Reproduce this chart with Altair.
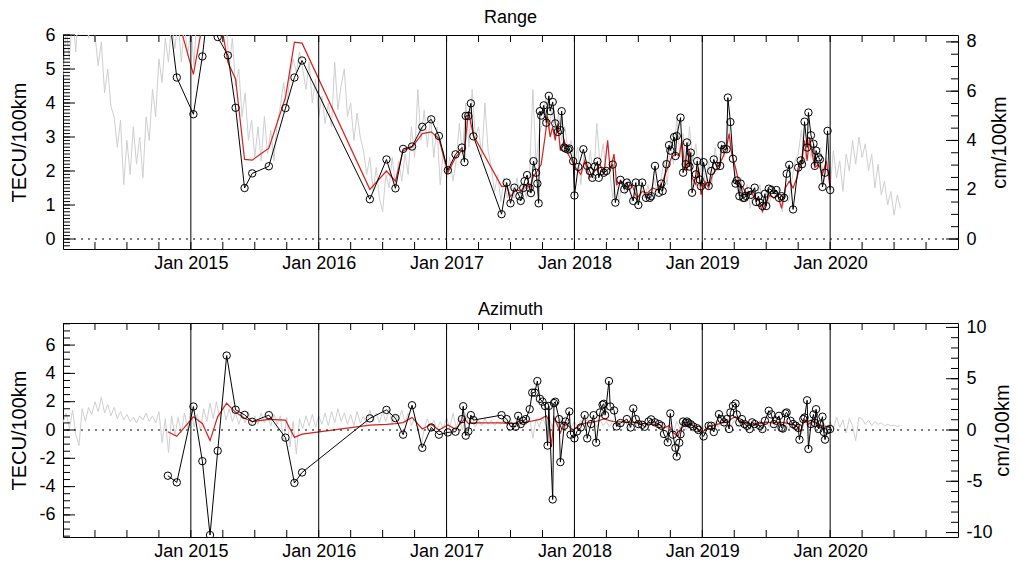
import altair as alt
import pandas as pd

FONT = "Liberation Sans"
X0, X1 = 2014.0, 2021.0
STEP = 0.025            # spacing of the daily-ish gray series (years)
RATIO = 1.38            # cm per TECU (C-band)
W, H = 895, 214
GRAY, RED = "#cfcfcf", "#d8201c"

YEAR_LINES = [2015, 2016, 2017, 2018, 2019, 2020]
YEAR_LABELS = [2015, 2016, 2017, 2018, 2019, 2020]
QUARTERS = [2014.25, 2014.5, 2014.75, 2015.0, 2015.25, 2015.5, 2015.75, 2016.0, 2016.25,
            2016.5, 2016.75, 2017.0, 2017.25, 2017.5, 2017.75, 2018.0, 2018.25, 2018.5,
            2018.75, 2019.0, 2019.25, 2019.5, 2019.75, 2020.0, 2020.25, 2020.5, 2020.75]

# ---------------- Range panel ----------------
RANGE_GRAY = [
    4.8, 6.2, 5.3, 6.6, 5.5, 7.0, 6.1, 6.8, 5.9, 7.2,
    6.0, 5.1, 5.8, 4.3, 5.0, 3.9, 3.6, 2.7, 3.5, 1.6,
    2.9, 1.9, 3.3, 2.2, 3.0, 1.8, 3.6, 2.9, 4.4, 3.6,
    5.3, 4.6, 5.9, 5.2, 6.4, 5.6, 6.5, 5.2, 6.3, 5.4,
    6.2, 5.1, 6.8, 7.2, 6.9, 7.5, 7.0, 7.4, 6.8, 7.1,
    5.8, 6.4, 5.1, 5.9, 4.5, 5.0, 3.6, 4.3, 2.9, 3.5,
    2.4, 3.3, 2.3, 3.6, 2.5, 3.2, 2.3, 3.4, 3.9, 4.6,
    3.9, 4.8, 5.3, 4.9, 5.5, 5.0, 4.4, 5.2, 4.0, 4.7,
    3.6, 4.2, 3.4, 4.0, 3.3, 5.2, 3.8, 4.5, 5.0, 3.6,
    4.0, 2.9, 3.7, 3.0, 2.6, 1.9, 2.4, 1.4, 2.1, 1.2,
    0.8, 1.9, 1.5, 2.4, 1.6, 2.3, 1.7, 2.5, 1.9, 3.3,
    2.4, 4.4, 2.9, 3.8, 2.7, 3.6, 2.4, 3.3, 1.6, 2.6,
    1.8, 2.4, 1.7, 2.3, 3.4, 2.5, 4.0, 2.7, 4.4, 3.0,
    3.3, 2.4, 4.0, 2.6, 2.1, 1.4, 1.9, 1.1, 1.8, 1.2,
    1.7, 1.2, 1.8, 1.3, 1.6, 1.2, 2.0, 4.4, 2.2, 3.1,
    3.4, 4.1, 3.2, 3.8, 3.0, 3.7, 2.9, 3.3, 2.6, 2.9,
    2.2, 2.7, 1.6, 2.5, 1.9, 2.6, 1.7, 3.4, 2.2, 2.8,
    1.9, 2.0, 1.2, 1.8, 1.1, 1.7, 1.3, 1.8, 1.1, 1.6,
    1.0, 1.7, 1.2, 1.6, 1.1, 1.8, 1.3, 1.7, 2.3, 1.6,
    2.9, 2.2, 3.6, 2.4, 3.1, 2.0, 3.3, 2.3, 2.8, 1.8,
    2.4, 1.5, 2.3, 1.6, 2.7, 2.0, 2.8, 2.4, 3.5, 2.8,
    2.2, 1.4, 1.8, 1.2, 1.6, 0.9, 1.5, 1.1, 1.6, 0.8,
    1.4, 1.0, 1.6, 1.2, 1.5, 0.8, 1.4, 1.1, 1.7, 2.3,
    2.5, 3.2, 2.2, 3.0, 2.4, 2.8, 2.1, 2.7, 1.6, 2.4,
    1.5, 2.6, 1.8, 2.3, 1.4, 2.5, 2.0, 2.9, 2.2, 3.0,
    2.4, 2.8, 2.0, 2.5, 1.5, 2.2, 1.3, 1.7, 1.0, 1.4,
    0.7, 1.3, 0.9,
]

RANGE_RED = [
    (2014.89, 6.6), (2015.02, 4.84), (2015.09, 6.3), (2015.16, 7.5), (2015.21, 6.9),
    (2015.29, 5.2), (2015.35, 4.70), (2015.42, 2.34), (2015.48, 2.32), (2015.61, 2.67),
    (2015.74, 4.16), (2015.81, 5.79), (2015.87, 5.76), (2016.40, 1.46), (2016.53, 2.0),
    (2016.60, 1.7), (2016.66, 2.6), (2016.73, 2.7), (2016.81, 3.1), (2016.88, 3.15),
    (2016.94, 2.95), (2017.01, 1.95), (2017.07, 2.4), (2017.12, 2.6), (2017.14, 2.55),
    (2017.17, 3.75), (2017.21, 3.05), (2017.43, 1.55), (2017.47, 1.55), (2017.50, 1.25),
    (2017.54, 1.45), (2017.58, 1.4), (2017.62, 1.6), (2017.65, 1.5), (2017.68, 1.85),
    (2017.71, 2.0), (2017.74, 2.2), (2017.77, 3.0), (2017.79, 3.6), (2017.81, 3.0),
    (2017.83, 3.3), (2017.85, 2.9), (2017.87, 3.4), (2017.89, 2.6), (2017.92, 2.9),
    (2017.95, 2.5), (2017.98, 2.3), (2018.01, 2.1), (2018.05, 1.9), (2018.08, 2.3),
    (2018.12, 1.8), (2018.16, 2.0), (2018.20, 2.2), (2018.23, 1.9), (2018.26, 2.9),
    (2018.28, 2.0), (2018.31, 2.5), (2018.33, 1.6), (2018.37, 1.7), (2018.41, 1.5),
    (2018.45, 1.6), (2018.49, 1.2), (2018.53, 1.4), (2018.57, 1.35), (2018.61, 1.5),
    (2018.65, 1.45), (2018.69, 1.7), (2018.73, 2.1), (2018.76, 2.4), (2018.79, 2.5),
    (2018.82, 2.45), (2018.84, 2.9), (2018.86, 2.2), (2018.88, 2.0), (2018.90, 2.6),
    (2018.92, 1.8), (2018.95, 1.6), (2018.97, 2.1), (2018.99, 1.3), (2019.02, 1.7),
    (2019.05, 1.5), (2019.08, 1.9), (2019.12, 2.1), (2019.16, 2.4), (2019.19, 2.7),
    (2019.21, 3.1), (2019.23, 2.5), (2019.26, 2.1), (2019.29, 1.6), (2019.32, 1.5),
    (2019.35, 1.3), (2019.38, 1.4), (2019.41, 1.2), (2019.44, 1.15), (2019.47, 0.8),
    (2019.50, 1.1), (2019.53, 1.3), (2019.56, 1.2), (2019.59, 1.3), (2019.62, 0.9),
    (2019.65, 1.5), (2019.68, 1.7), (2019.71, 1.5), (2019.74, 1.8), (2019.77, 2.2),
    (2019.80, 2.9), (2019.82, 2.3), (2019.84, 3.0), (2019.86, 2.5), (2019.88, 2.1),
    (2019.91, 2.2), (2019.94, 1.9), (2019.97, 2.3), (2020.00, 1.5),
]

RANGE_BLACK = [
    (2014.80, 7.5), (2014.89, 4.75), (2015.02, 3.67), (2015.09, 5.37), (2015.16, 7.6),
    (2015.21, 5.94), (2015.29, 5.40), (2015.35, 3.86), (2015.42, 1.50), (2015.48, 1.93),
    (2015.61, 2.14), (2015.74, 3.85), (2015.81, 4.75), (2015.87, 5.25),
    (2016.40, 1.17), (2016.53, 2.34), (2016.60, 1.49), (2016.66, 2.65), (2016.73, 2.72),
    (2016.81, 3.30), (2016.88, 3.52), (2016.94, 3.03), (2017.01, 2.02), (2017.07, 2.49),
    (2017.12, 2.69), (2017.14, 2.26), (2017.15, 3.62), (2017.17, 3.62), (2017.19, 3.99),
    (2017.21, 3.02), (2017.43, 0.73), (2017.47, 1.66), (2017.50, 1.05), (2017.53, 1.51),
    (2017.57, 1.26), (2017.58, 1.12), (2017.60, 1.50), (2017.61, 1.70), (2017.63, 1.88),
    (2017.65, 1.50), (2017.66, 1.35), (2017.68, 2.29), (2017.70, 1.95), (2017.71, 1.63),
    (2017.72, 1.05), (2017.73, 3.76), (2017.74, 3.63), (2017.76, 3.93), (2017.78, 3.42),
    (2017.80, 4.21), (2017.81, 3.76), (2017.83, 4.03), (2017.85, 3.40), (2017.87, 3.15),
    (2017.89, 3.20), (2017.90, 3.76), (2017.92, 2.69), (2017.93, 2.66), (2017.95, 2.63),
    (2017.96, 2.66), (2017.99, 2.29), (2018.00, 1.28), (2018.03, 2.12), (2018.07, 2.64),
    (2018.10, 2.15), (2018.12, 2.00), (2018.14, 1.80), (2018.16, 2.13), (2018.18, 2.28),
    (2018.19, 1.80), (2018.21, 2.00), (2018.23, 1.95), (2018.25, 2.00), (2018.30, 2.19),
    (2018.32, 1.07), (2018.36, 1.74), (2018.39, 1.46), (2018.41, 1.66), (2018.42, 1.56),
    (2018.46, 1.12), (2018.48, 1.66), (2018.50, 1.00), (2018.53, 1.66), (2018.56, 1.21),
    (2018.59, 1.21), (2018.60, 1.26), (2018.63, 2.15), (2018.66, 1.36), (2018.68, 1.63),
    (2018.69, 1.41), (2018.72, 2.20), (2018.74, 2.76), (2018.75, 2.60), (2018.78, 3.00),
    (2018.79, 2.44), (2018.80, 3.03), (2018.83, 3.57), (2018.85, 1.95), (2018.87, 2.20),
    (2018.88, 2.84), (2018.90, 2.13), (2018.91, 2.54), (2018.92, 1.36), (2018.95, 1.90),
    (2018.96, 2.29), (2018.98, 1.75), (2018.99, 1.55), (2019.01, 2.26), (2019.05, 1.56),
    (2019.07, 2.00), (2019.09, 2.34), (2019.11, 2.15), (2019.14, 2.15), (2019.15, 2.76),
    (2019.17, 2.64), (2019.19, 2.64), (2019.20, 4.16), (2019.22, 3.44), (2019.24, 2.36),
    (2019.26, 1.63), (2019.27, 1.72), (2019.29, 1.26), (2019.30, 1.63), (2019.32, 1.21),
    (2019.33, 1.21), (2019.34, 1.27), (2019.36, 1.40), (2019.38, 1.30), (2019.41, 1.51),
    (2019.42, 1.09), (2019.44, 1.26), (2019.45, 1.07), (2019.47, 0.97), (2019.49, 1.33),
    (2019.50, 0.97), (2019.52, 1.48), (2019.54, 1.44), (2019.56, 1.33), (2019.58, 1.44),
    (2019.60, 1.21), (2019.62, 1.26), (2019.64, 1.21), (2019.66, 1.92), (2019.68, 2.18),
    (2019.71, 0.87), (2019.75, 2.10), (2019.77, 2.31), (2019.78, 2.20), (2019.80, 3.45),
    (2019.82, 2.69), (2019.83, 3.72), (2019.85, 3.05), (2019.87, 2.80), (2019.88, 2.15),
    (2019.89, 2.60), (2019.91, 2.40), (2019.92, 2.34), (2019.94, 1.53), (2019.96, 1.95),
    (2019.98, 3.18), (2020.00, 1.44),
]

# ---------------- Azimuth panel ----------------
AZ_GRAY = [
    0.5, 1.2, 0.1, 1.4, -0.3, -1.1, 1.5, 0.6, 1.6, 1.1,
    2.0, 1.3, 2.3, 1.2, 1.8, 1.0, 1.6, 0.8, 1.3, 0.7,
    1.1, 0.6, 0.9, 0.5, 1.0, 0.7, 1.2, 0.6, 1.0, 0.5,
    1.3, -0.9, 0.8, -1.6, 1.0, -0.4, 0.9, -0.2, 1.2, 0.1,
    1.4, 0.2, 1.1, 0.0, 1.5, 0.6, 1.9, 0.8, 2.0, 0.9,
    1.8, 0.7, 1.5, 0.6, 1.2, 0.4, 1.1, 0.5, 1.3, 0.3,
    1.0, 0.4, 1.2, 0.5, 0.9, 0.3, 1.1, 0.4, 1.0, -0.8,
    0.9, -1.2, 0.6, -1.7, 0.8, 0.1, 1.0, 0.3, 1.1, 0.2,
    1.0, 0.4, 1.2, 0.3, 1.3, 0.5, 1.5, 0.6, 1.2, 0.4,
    1.1, 0.3, 1.3, 0.5, 1.0, 0.4, 1.4, 0.6, 1.2, 0.5,
    1.3, 0.6, 1.5, 0.4, 1.1, 0.7, 1.4, 0.5, 1.2, 0.3,
    0.9, 0.4, -1.2, 0.1, 0.8, 0.2, 0.7, 0.0, 0.6, 0.1,
    0.9, 0.1, 1.2, 0.2, 0.8, 0.0, 1.1, 0.3, 0.9, 0.2,
    0.7, 0.3, 0.8, 0.4, 0.7, 0.3, 0.6, 0.4, 0.8, 0.3,
    0.7, 0.4, 0.6, 0.3, 0.8, 0.4, 0.9, -0.6, 0.8, 0.2,
    0.9, 0.3, 1.0, 0.2, 0.8, 0.4, 0.9, 0.1, 0.7, 0.2,
    0.6, 0.1, 0.7, 0.2, 0.8, 0.3, 0.6, 0.2, 0.7, 0.3,
    0.6, 0.2, 0.7, 0.3, 0.5, 0.2, 0.6, 0.1, 0.5, 0.2,
    0.6, 0.2, 0.5, 0.1, 0.6, 0.3, 0.5, 0.0, 0.4, 0.1,
    0.5, -0.2, 0.6, 0.1, 0.5, 0.0, 0.4, -0.1, 0.3, -0.2,
    0.3, -0.1, 0.5, 0.1, 0.6, 0.2, 0.7, 0.1, 0.8, 0.3,
    0.7, 0.2, 0.6, 0.1, 0.5, 0.0, 0.6, 0.2, 0.5, 0.1,
    0.6, 0.2, 0.7, 0.1, 0.5, 0.2, 0.6, 0.0, 0.5, 0.1,
    0.6, -0.3, 0.7, 0.2, 0.8, 0.1, 0.6, 0.2, 0.5, 0.0,
    0.6, 0.1, 0.9, 0.2, 0.7, -0.2, 0.8, 0.3, -0.75, 0.9,
    0.8, 0.4, 0.7, 0.3, 0.6, 0.4, 0.5, 0.3, 0.4, 0.3,
    0.35, 0.25, 0.3,
]

AZ_RED = [
    (2014.82, -0.12), (2014.89, -0.45), (2015.02, 0.93), (2015.09, 0.46), (2015.15, -0.75),
    (2015.21, 0.95), (2015.28, 1.89), (2015.35, 1.25), (2015.42, 0.83), (2015.48, 0.60),
    (2015.61, 0.75), (2015.74, 0.70), (2015.81, -0.52), (2015.87, -0.29), (2016.40, 0.35),
    (2016.53, 0.40), (2016.60, 0.45), (2016.66, 0.52), (2016.73, 0.89), (2016.81, 0.07),
    (2016.88, 0.40), (2016.94, 0.00), (2017.01, 0.35), (2017.07, 0.05), (2017.14, 0.77),
    (2017.17, 0.46), (2017.21, 0.50), (2017.43, 0.50), (2017.50, 0.45), (2017.58, 0.50),
    (2017.65, 0.60), (2017.73, 0.75), (2017.78, 1.00), (2017.80, 0.70), (2017.82, -1.20),
    (2017.84, 0.90), (2017.86, 0.50), (2017.89, -0.20), (2017.92, 0.55), (2017.99, 0.00),
    (2018.06, 0.45), (2018.15, 0.55), (2018.23, 0.78), (2018.30, 0.60), (2018.43, 0.55),
    (2018.55, 0.45), (2018.62, 0.40), (2018.66, 0.40), (2018.70, 0.15), (2018.74, 0.30),
    (2018.78, -0.25), (2018.81, -0.45), (2018.83, 0.10), (2018.87, 0.35), (2018.92, 0.40),
    (2018.97, 0.05), (2019.00, -0.15), (2019.05, 0.25), (2019.10, 0.35), (2019.15, 0.50),
    (2019.20, 0.55), (2019.23, 0.80), (2019.26, 0.95), (2019.30, 0.55), (2019.35, 0.45),
    (2019.40, 0.40), (2019.45, 0.45), (2019.50, 0.55), (2019.55, 0.50), (2019.60, 0.55),
    (2019.65, 0.50), (2019.70, 0.40), (2019.75, 0.25), (2019.77, -0.10), (2019.80, 0.75),
    (2019.83, 0.40), (2019.86, 0.60), (2019.90, 0.45), (2019.94, 0.30), (2019.98, 0.25),
    (2020.00, 0.15),
]

AZ_BLACK = [
    (2014.82, -3.23), (2014.89, -3.70), (2015.02, 1.66), (2015.09, -2.20), (2015.15, -7.42),
    (2015.21, -1.47), (2015.28, 5.26), (2015.35, 1.43), (2015.42, 1.07), (2015.48, 0.58),
    (2015.61, 1.05), (2015.74, -0.54), (2015.81, -3.74), (2015.87, -3.00),
    (2016.40, 0.82), (2016.53, 1.42), (2016.60, 0.84), (2016.66, -0.33), (2016.73, 1.75),
    (2016.81, -1.26), (2016.88, 0.18), (2016.94, -0.33), (2017.01, -0.17), (2017.07, -0.12),
    (2017.12, 0.77), (2017.13, 1.68), (2017.15, -0.40), (2017.17, -0.10), (2017.19, 1.05),
    (2017.21, 0.70), (2017.43, 1.05), (2017.47, 0.77), (2017.50, 0.25), (2017.54, 0.23),
    (2017.56, 1.00), (2017.58, 0.42), (2017.60, 0.65), (2017.62, 0.77), (2017.65, 1.47),
    (2017.67, 2.64), (2017.69, 2.64), (2017.71, 3.46), (2017.73, 2.20), (2017.75, 2.00),
    (2017.77, 1.70), (2017.79, -1.10), (2017.80, 1.70), (2017.83, -4.91), (2017.84, 1.90),
    (2017.85, 2.00), (2017.88, 0.77), (2017.89, -2.27), (2017.92, 0.30), (2017.93, 0.60),
    (2017.96, 1.31), (2017.97, -0.33), (2018.00, -0.59), (2018.02, -0.10), (2018.05, 0.18),
    (2018.08, 1.05), (2018.10, -0.59), (2018.13, 0.42), (2018.15, 1.05), (2018.17, -0.89),
    (2018.20, 1.24), (2018.22, 1.78), (2018.23, 1.85), (2018.24, 1.05), (2018.27, 3.46),
    (2018.28, 1.66), (2018.31, 1.38), (2018.33, 0.25), (2018.36, 0.49), (2018.41, 0.77),
    (2018.44, 0.18), (2018.46, 1.52), (2018.48, 0.77), (2018.50, 0.42), (2018.53, 0.37),
    (2018.55, 0.23), (2018.58, 0.60), (2018.60, 0.75), (2018.63, 0.54), (2018.66, 0.42),
    (2018.68, 0.30), (2018.70, -0.28), (2018.73, -0.87), (2018.75, 1.17), (2018.77, -0.33),
    (2018.79, -1.26), (2018.80, -1.87), (2018.82, -0.90), (2018.83, -0.30), (2018.85, 0.60),
    (2018.87, 0.50), (2018.88, 0.60), (2018.89, 0.50), (2018.91, 0.40), (2018.93, 0.25),
    (2018.96, 0.12), (2018.97, 0.00), (2019.01, -0.45), (2019.05, 0.30), (2019.07, 0.30),
    (2019.09, -0.14), (2019.13, 1.12), (2019.15, 0.77), (2019.17, 0.54), (2019.19, 0.77),
    (2019.21, 0.07), (2019.22, 1.24), (2019.24, 1.70), (2019.26, 1.87), (2019.27, 1.10),
    (2019.29, 0.54), (2019.31, 0.77), (2019.33, 0.42), (2019.35, 0.30), (2019.37, 0.07),
    (2019.39, 0.54), (2019.41, 0.42), (2019.45, 0.30), (2019.47, 0.07), (2019.49, 0.65),
    (2019.52, 1.36), (2019.54, 1.10), (2019.56, 0.42), (2019.58, 0.65), (2019.60, 1.00),
    (2019.62, 0.15), (2019.63, 0.10), (2019.65, 1.17), (2019.66, 1.24), (2019.69, 0.65),
    (2019.71, 0.42), (2019.73, 0.30), (2019.75, 0.15), (2019.76, -0.68), (2019.79, 0.77),
    (2019.80, 0.88), (2019.82, 2.10), (2019.83, -1.34), (2019.85, 0.42), (2019.87, 1.10),
    (2019.88, 0.50), (2019.89, 1.47), (2019.91, 0.07), (2019.92, 0.40), (2019.94, 0.94),
    (2019.95, -0.14), (2019.96, -0.68), (2019.98, 0.00), (2020.00, 0.07),
]

RANGE_YLIM = (-0.294, 6.0)
AZ_YLIM = (-7.56, 7.56)
RANGE_LEFT_LABELS = [0, 1, 2, 3, 4, 5, 6]
RANGE_RIGHT_LABELS = [0, 2, 4, 6, 8]
AZ_LEFT_LABELS = [-6, -4, -2, 0, 2, 4, 6]
AZ_RIGHT_LABELS = [-10, -5, 0, 5, 10]
RANGE_LEFT_MINOR = [round(-0.2 + 0.1 * i, 2) for i in range(63)]
RANGE_LEFT_MAJOR = [0, 1, 2, 3, 4, 5, 6]
RANGE_RIGHT_MINOR = [0.5 * i for i in range(17)]
RANGE_RIGHT_MAJOR = [0, 2, 4, 6, 8]
AZ_LEFT_MINOR = [-7.5 + 0.5 * i for i in range(31)]
AZ_LEFT_MAJOR = [-6, -4, -2, 0, 2, 4, 6]
AZ_RIGHT_MINOR = [-10 + i for i in range(21)]
AZ_RIGHT_MAJOR = [-10, -5, 0, 5, 10]

SIGNED = "datum.value < 0 ? '-' + abs(datum.value) : '' + datum.value"


def tick_tables(ylim, lminor, lmajor, rminor, rmajor):
    ymin, ymax = ylim
    pxx = W / (X1 - X0)
    pxy = H / (ymax - ymin)
    sx, Lx, sy = 7 / pxx, 12 / pxx, 7 / pxy
    vrows, hrows = [], []
    for q in QUARTERS:
        vrows.append(dict(t=q, v=ymin, v2=ymin + sy))
        vrows.append(dict(t=q, v=ymax - sy, v2=ymax))
    for v in lminor:
        if ymin <= v <= ymax:
            hrows.append(dict(t=X0, t2=X0 + sx, v=v))
    for v in lmajor:
        hrows.append(dict(t=X0, t2=X0 + Lx, v=v))
    for c in rminor:
        v = c / RATIO
        if ymin <= v <= ymax:
            hrows.append(dict(t=X1 - sx, t2=X1, v=v))
    for c in rmajor:
        v = c / RATIO
        if ymin <= v <= ymax:
            hrows.append(dict(t=X1 - Lx, t2=X1, v=v))
    return pd.DataFrame(vrows), pd.DataFrame(hrows)


def panel(title, gray, red, black, ylim, left_labels, right_labels, lminor, lmajor, rminor, rmajor,
          rext, rpad):
    ymin, ymax = ylim
    xs = alt.Scale(domain=[X0, X1], nice=False, zero=False)
    ys = alt.Scale(domain=[ymin, ymax], nice=False, zero=False)
    x_axis = alt.Axis(values=YEAR_LABELS, labelExpr="'Jan ' + datum.value", title=None,
                      labelPadding=5, labelFlush=False, orient="bottom")
    y_axis = alt.Axis(values=left_labels, labelExpr=SIGNED, title="TECU/100km", orient="left",
                      labelPadding=8, minExtent=29, maxExtent=29, titlePadding=5)
    X = alt.X("t:Q", scale=xs, axis=x_axis)
    Y = alt.Y("v:Q", scale=ys, axis=y_axis)

    gdf = pd.DataFrame({"t": [X0 + i * STEP for i in range(len(gray))], "v": gray})
    rdf = pd.DataFrame(red, columns=["t", "v"])
    rdf["i"] = range(len(rdf))
    bdf = pd.DataFrame(black, columns=["t", "v"])
    bdf["i"] = range(len(bdf))
    vt, ht = tick_tables(ylim, lminor, lmajor, rminor, rmajor)

    gray_l = alt.Chart(gdf).mark_line(color=GRAY, strokeWidth=1, clip=True).encode(x=X, y=Y)
    red_l = alt.Chart(rdf).mark_line(color=RED, strokeWidth=1.2, clip=True).encode(x=X, y=Y, order="i:Q")
    years = alt.Chart(pd.DataFrame({"t": YEAR_LINES})).mark_rule(color="black", strokeWidth=1).encode(x=X)
    zero = alt.Chart(pd.DataFrame({"v": [0]})).mark_rule(color="black", strokeWidth=1, strokeDash=[2, 5]).encode(y=Y)
    vticks = alt.Chart(vt).mark_rule(color="black", strokeWidth=1).encode(
        x=X, y=Y, y2=alt.Y2("v2"))
    hticks = alt.Chart(ht).mark_rule(color="black", strokeWidth=1).encode(
        x=X, x2=alt.X2("t2"), y=Y)
    blk_l = alt.Chart(bdf).mark_line(color="black", strokeWidth=1, clip=True).encode(x=X, y=Y, order="i:Q")
    blk_p = alt.Chart(bdf).mark_point(shape="circle", filled=False, color="black", size=55,
                                      strokeWidth=1, opacity=1, clip=True).encode(x=X, y=Y)
    left = alt.layer(gray_l, red_l, years, zero, vticks, hticks, blk_l, blk_p)

    cdf = pd.DataFrame({"t": [X0, X1], "c": [ymin * RATIO, ymax * RATIO]})
    right = alt.Chart(cdf).mark_point(opacity=0).encode(
        x=X,
        y=alt.Y("c:Q", scale=alt.Scale(domain=[ymin * RATIO, ymax * RATIO], nice=False, zero=False),
                axis=alt.Axis(orient="right", values=right_labels, labelExpr=SIGNED, title="cm/100km",
                              titleAngle=270, titleBaseline="top", labelPadding=8,
                              minExtent=rext, maxExtent=rext, titlePadding=rpad)),
    )
    return alt.layer(left, right).resolve_scale(y="independent").properties(
        width=W, height=H, title=alt.Title(title))


top = panel("Range", RANGE_GRAY, RANGE_RED, RANGE_BLACK, RANGE_YLIM, RANGE_LEFT_LABELS, RANGE_RIGHT_LABELS,
            RANGE_LEFT_MINOR, RANGE_LEFT_MAJOR, RANGE_RIGHT_MINOR, RANGE_RIGHT_MAJOR, 25, 6)
bottom = panel("Azimuth", AZ_GRAY, AZ_RED, AZ_BLACK, AZ_YLIM, AZ_LEFT_LABELS, AZ_RIGHT_LABELS,
               AZ_LEFT_MINOR, AZ_LEFT_MAJOR, AZ_RIGHT_MINOR, AZ_RIGHT_MAJOR, 33, 1)

chart = alt.vconcat(top, bottom, spacing=27).properties(
    padding={"left": 0, "top": 0, "right": 0, "bottom": 0}
).configure(
    background="white"
).configure_view(
    stroke="black", strokeWidth=1
).configure_axis(
    labelFont=FONT, titleFont=FONT, labelFontSize=18, titleFontSize=20, titleFontWeight="normal",
    labelColor="black", titleColor="black", grid=False, ticks=False, tickSize=0, domain=False,
).configure_title(
    font=FONT, fontSize=18, fontWeight="normal", color="black", anchor="middle", offset=-1,
)

chart.save("out.html", embed_options={"renderer": "svg", "actions": False})
